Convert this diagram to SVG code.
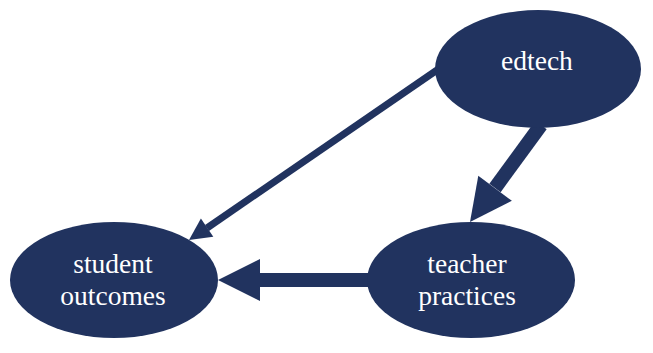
<svg xmlns="http://www.w3.org/2000/svg" width="653" height="353" viewBox="0 0 653 353">
<style>
.node{fill:#21335f}
.lbl{fill:#ffffff;font-family:"Liberation Serif","Times New Roman",serif;font-size:27.5px;text-anchor:middle}
.edge{stroke:#21335f;fill:none}
.head{fill:#21335f}
</style>
<rect width="653" height="353" fill="#ffffff"/>
<g id="connectors">
<line class="edge" x1="440" y1="68" x2="207" y2="228" stroke-width="7"/>
<polygon class="head" points="189,240 213.3,236.7 200.9,218.5"/>
<line class="edge" x1="541" y1="125" x2="495" y2="188" stroke-width="14"/>
<polygon class="head" points="470,222 511.9,200.8 478.3,175.8"/>
<line class="edge" x1="370" y1="280" x2="258" y2="280" stroke-width="14"/>
<polygon class="head" points="218,280 260,259 260,301"/>
</g>
<g id="edtech">
<ellipse class="node" cx="538" cy="69" rx="103" ry="59"/>
<text class="lbl" x="537" y="70">edtech</text>
</g>
<g id="student-outcomes">
<ellipse class="node" cx="114" cy="280" rx="104" ry="58"/>
<text class="lbl" x="113" y="273">student</text>
<text class="lbl" x="113" y="305">outcomes</text>
</g>
<g id="teacher-practices">
<ellipse class="node" cx="471" cy="280" rx="104" ry="58"/>
<text class="lbl" x="467" y="273">teacher</text>
<text class="lbl" x="467" y="305">practices</text>
</g>
</svg>
